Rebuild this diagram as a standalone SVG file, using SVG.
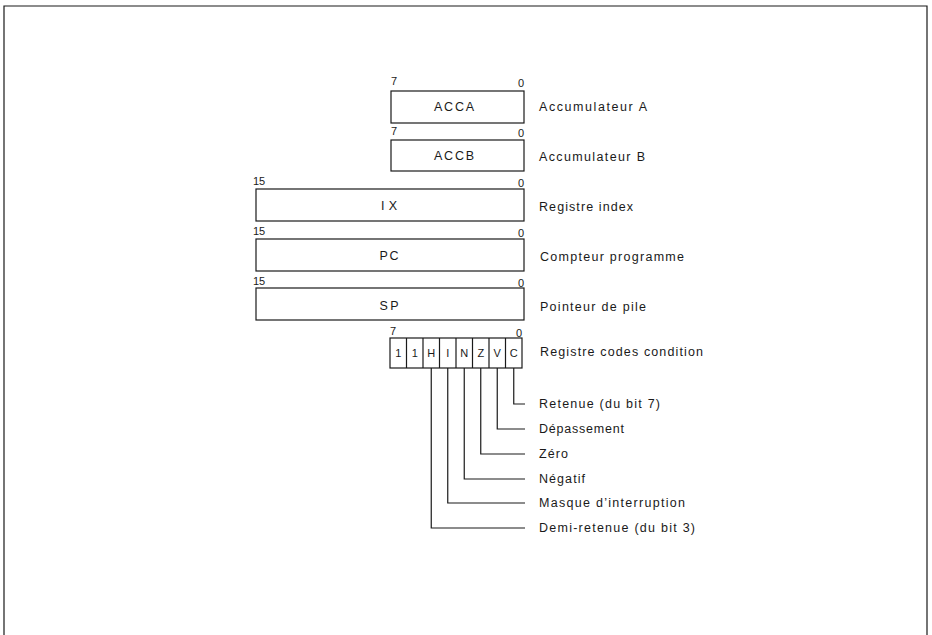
<svg xmlns="http://www.w3.org/2000/svg" width="932" height="635" viewBox="0 0 932 635">
<style>
.box{fill:#fff;stroke:#1a1a1a;stroke-width:1.2}
.t{font-family:"Liberation Sans",Arial,sans-serif;font-size:12.5px;fill:#1a1a1a}
.b{font-family:"Liberation Sans",Arial,sans-serif;font-size:11px;fill:#1a1a1a}
.c{text-anchor:middle}
.ln{fill:none;stroke:#1a1a1a;stroke-width:1.2}
</style>
<rect width="932" height="635" fill="#fff"/>
<path class="ln" d="M4,635 V6 H927 V635"/>
<g id="acca">
<rect class="box" x="391" y="91" width="133" height="32"/>
<text class="t c" x="454" y="111" textLength="40" lengthAdjust="spacing">ACCA</text>
<text class="b" x="391" y="85">7</text><text class="b" x="518" y="87">0</text>
<text class="t" x="539" y="111" textLength="108" lengthAdjust="spacing">Accumulateur A</text>
</g>
<g id="accb">
<rect class="box" x="391" y="140" width="133" height="31"/>
<text class="t c" x="454" y="160" textLength="40" lengthAdjust="spacing">ACCB</text>
<text class="b" x="391" y="135">7</text><text class="b" x="518" y="137">0</text>
<text class="t" x="539" y="161" textLength="106" lengthAdjust="spacing">Accumulateur B</text>
</g>
<g id="ix">
<rect class="box" x="256" y="189" width="268" height="32"/>
<text class="t c" x="389" y="210" textLength="16" lengthAdjust="spacing">IX</text>
<text class="b" x="253" y="185">15</text><text class="b" x="518" y="187">0</text>
<text class="t" x="539" y="211" textLength="94" lengthAdjust="spacing">Registre index</text>
</g>
<g id="pc">
<rect class="box" x="256" y="239" width="268" height="32"/>
<text class="t c" x="389" y="260" textLength="19" lengthAdjust="spacing">PC</text>
<text class="b" x="253" y="235">15</text><text class="b" x="518" y="237">0</text>
<text class="t" x="540" y="261" textLength="144" lengthAdjust="spacing">Compteur programme</text>
</g>
<g id="sp">
<rect class="box" x="256" y="288" width="268" height="32"/>
<text class="t c" x="389" y="310" textLength="19" lengthAdjust="spacing">SP</text>
<text class="b" x="253" y="285">15</text><text class="b" x="518" y="287">0</text>
<text class="t" x="540" y="311" textLength="106" lengthAdjust="spacing">Pointeur de pile</text>
</g>
<g id="ccr">
<rect class="box" x="390" y="338" width="132" height="30"/>
<path class="ln" d="M406.5,338V368M423,338V368M439.5,338V368M456,338V368M472.5,338V368M489,338V368M505.5,338V368"/>
<text class="b c" x="398.25" y="357">1</text>
<text class="b c" x="414.75" y="357">1</text>
<text class="b c" x="431.25" y="357">H</text>
<text class="b c" x="447.75" y="357">I</text>
<text class="b c" x="464.25" y="357">N</text>
<text class="b c" x="480.75" y="357">Z</text>
<text class="b c" x="497.25" y="357">V</text>
<text class="b c" x="513.75" y="357">C</text>
<text class="b" x="390" y="335">7</text><text class="b" x="516" y="337">0</text>
<text class="t" x="540" y="356" textLength="163" lengthAdjust="spacing">Registre codes condition</text>
</g>
<g id="connectors">
<path class="ln" d="M513.75,368V404H525"/>
<path class="ln" d="M497.25,368V429H525"/>
<path class="ln" d="M480.75,368V454H525"/>
<path class="ln" d="M464.25,368V479H525"/>
<path class="ln" d="M447.75,368V503H525"/>
<path class="ln" d="M431.25,368V528H525"/>
</g>
<g id="flags">
<text class="t" x="539" y="408" textLength="121" lengthAdjust="spacing">Retenue (du bit 7)</text>
<text class="t" x="539" y="433" textLength="85" lengthAdjust="spacing">Dépassement</text>
<text class="t" x="539" y="458" textLength="29" lengthAdjust="spacing">Zéro</text>
<text class="t" x="539" y="483" textLength="46" lengthAdjust="spacing">Négatif</text>
<text class="t" x="539" y="507" textLength="146" lengthAdjust="spacing">Masque d’interruption</text>
<text class="t" x="539" y="532" textLength="156" lengthAdjust="spacing">Demi-retenue (du bit 3)</text>
</g>
</svg>
